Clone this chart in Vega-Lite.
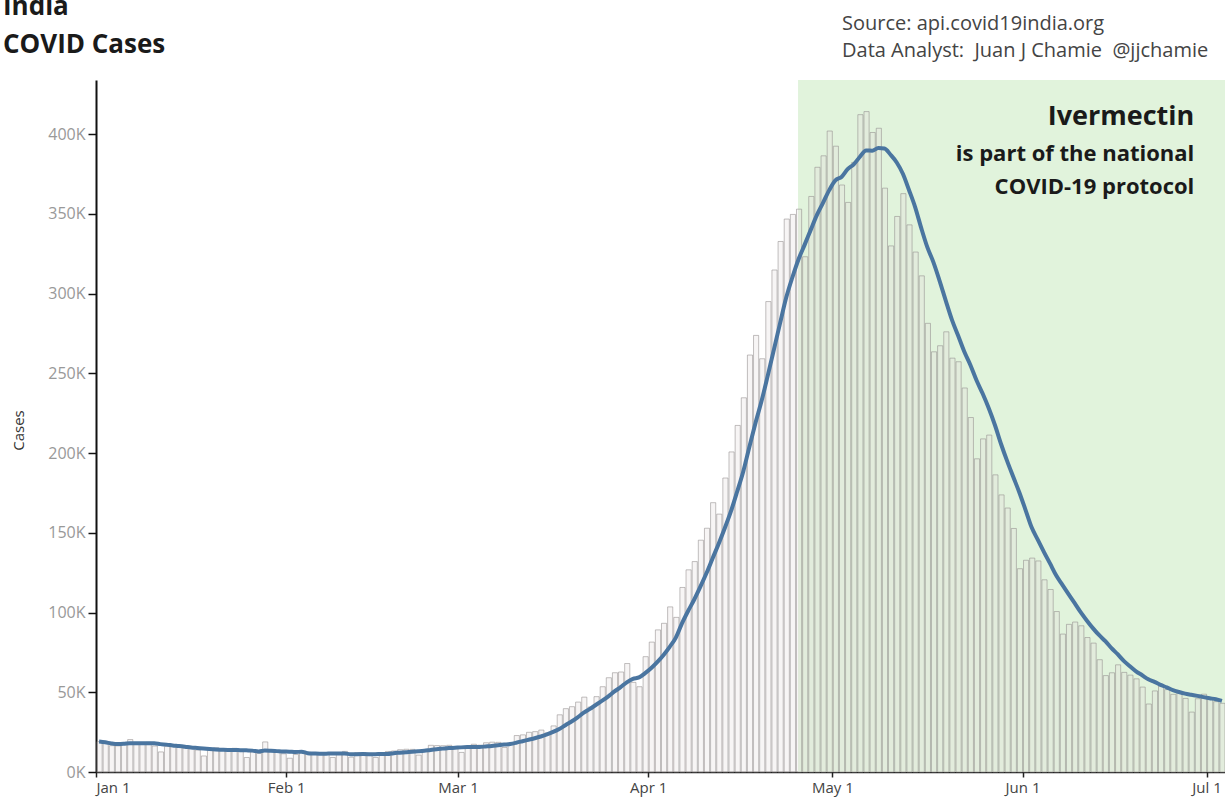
{
"$schema":"https://vega.github.io/schema/vega-lite/v6.json",
"width":1129,"height":692,"autosize":"none",
"padding":{"left":96,"top":80,"right":0,"bottom":29},
"background":"#ffffff",
"config":{"view":{"stroke":null},"font":"Open Sans","axis":{"grid":false}},
"title":{"text":["India","COVID Cases"],"anchor":"start","frame":"group","font":"Open Sans","fontSize":26,"fontWeight":"bold","color":"#1a1a1a","lineHeight":38,"dx":-93,"baseline":"alphabetic","offset":0,"dy":65},
"data":{"format":{"parse":{"date":"date:'%Y-%m-%d'"}},"values":[
{"date":"2021-01-01","cases":19079},{"date":"2021-01-02","cases":18177},{"date":"2021-01-03","cases":16504},{"date":"2021-01-04","cases":16375},{"date":"2021-01-05","cases":18088},{"date":"2021-01-06","cases":20346},{"date":"2021-01-07","cases":18139},{"date":"2021-01-08","cases":18222},{"date":"2021-01-09","cases":18645},{"date":"2021-01-10","cases":16311},{"date":"2021-01-11","cases":12584},{"date":"2021-01-12","cases":15968},{"date":"2021-01-13","cases":16946},{"date":"2021-01-14","cases":15590},{"date":"2021-01-15","cases":15158},{"date":"2021-01-16","cases":15144},{"date":"2021-01-17","cases":13788},{"date":"2021-01-18","cases":10064},{"date":"2021-01-19","cases":13823},{"date":"2021-01-20","cases":15223},{"date":"2021-01-21","cases":14545},{"date":"2021-01-22","cases":14256},{"date":"2021-01-23","cases":14849},{"date":"2021-01-24","cases":13203},{"date":"2021-01-25","cases":9102},{"date":"2021-01-26","cases":12689},{"date":"2021-01-27","cases":11666},{"date":"2021-01-28","cases":18855},{"date":"2021-01-29","cases":13083},{"date":"2021-01-30","cases":13052},{"date":"2021-01-31","cases":11427},
{"date":"2021-02-01","cases":8635},{"date":"2021-02-02","cases":11039},{"date":"2021-02-03","cases":12899},{"date":"2021-02-04","cases":12408},{"date":"2021-02-05","cases":11713},{"date":"2021-02-06","cases":12059},{"date":"2021-02-07","cases":11831},{"date":"2021-02-08","cases":9110},{"date":"2021-02-09","cases":11067},{"date":"2021-02-10","cases":12923},{"date":"2021-02-11","cases":9309},{"date":"2021-02-12","cases":12143},{"date":"2021-02-13","cases":12194},{"date":"2021-02-14","cases":11649},{"date":"2021-02-15","cases":9121},{"date":"2021-02-16","cases":11610},{"date":"2021-02-17","cases":12881},{"date":"2021-02-18","cases":13193},{"date":"2021-02-19","cases":13993},{"date":"2021-02-20","cases":14264},{"date":"2021-02-21","cases":14199},{"date":"2021-02-22","cases":10584},{"date":"2021-02-23","cases":13742},{"date":"2021-02-24","cases":16738},{"date":"2021-02-25","cases":16577},{"date":"2021-02-26","cases":16488},{"date":"2021-02-27","cases":16752},{"date":"2021-02-28","cases":15510},
{"date":"2021-03-01","cases":12286},{"date":"2021-03-02","cases":14989},{"date":"2021-03-03","cases":17407},{"date":"2021-03-04","cases":16838},{"date":"2021-03-05","cases":18327},{"date":"2021-03-06","cases":18711},{"date":"2021-03-07","cases":18599},{"date":"2021-03-08","cases":15388},{"date":"2021-03-09","cases":17921},{"date":"2021-03-10","cases":22854},{"date":"2021-03-11","cases":23285},{"date":"2021-03-12","cases":24882},{"date":"2021-03-13","cases":25320},{"date":"2021-03-14","cases":26291},{"date":"2021-03-15","cases":24492},{"date":"2021-03-16","cases":28903},{"date":"2021-03-17","cases":35871},{"date":"2021-03-18","cases":39726},{"date":"2021-03-19","cases":40953},{"date":"2021-03-20","cases":43846},{"date":"2021-03-21","cases":46951},{"date":"2021-03-22","cases":40715},{"date":"2021-03-23","cases":47262},{"date":"2021-03-24","cases":53476},{"date":"2021-03-25","cases":59118},{"date":"2021-03-26","cases":62258},{"date":"2021-03-27","cases":62714},{"date":"2021-03-28","cases":68020},{"date":"2021-03-29","cases":56211},{"date":"2021-03-30","cases":53480},{"date":"2021-03-31","cases":72330},
{"date":"2021-04-01","cases":81466},{"date":"2021-04-02","cases":89129},{"date":"2021-04-03","cases":93249},{"date":"2021-04-04","cases":103558},{"date":"2021-04-05","cases":96982},{"date":"2021-04-06","cases":115736},{"date":"2021-04-07","cases":126789},{"date":"2021-04-08","cases":131968},{"date":"2021-04-09","cases":145384},{"date":"2021-04-10","cases":152879},{"date":"2021-04-11","cases":168912},{"date":"2021-04-12","cases":161736},{"date":"2021-04-13","cases":184372},{"date":"2021-04-14","cases":200739},{"date":"2021-04-15","cases":217353},{"date":"2021-04-16","cases":234692},{"date":"2021-04-17","cases":261500},{"date":"2021-04-18","cases":273810},{"date":"2021-04-19","cases":259170},{"date":"2021-04-20","cases":295041},{"date":"2021-04-21","cases":314835},{"date":"2021-04-22","cases":332730},{"date":"2021-04-23","cases":346786},{"date":"2021-04-24","cases":349691},{"date":"2021-04-25","cases":352991},{"date":"2021-04-26","cases":323144},{"date":"2021-04-27","cases":360960},{"date":"2021-04-28","cases":379257},{"date":"2021-04-29","cases":386452},{"date":"2021-04-30","cases":401993},
{"date":"2021-05-01","cases":392488},{"date":"2021-05-02","cases":368147},{"date":"2021-05-03","cases":357229},{"date":"2021-05-04","cases":382315},{"date":"2021-05-05","cases":412262},{"date":"2021-05-06","cases":414188},{"date":"2021-05-07","cases":401078},{"date":"2021-05-08","cases":403738},{"date":"2021-05-09","cases":366161},{"date":"2021-05-10","cases":329942},{"date":"2021-05-11","cases":348421},{"date":"2021-05-12","cases":362727},{"date":"2021-05-13","cases":343144},{"date":"2021-05-14","cases":326098},{"date":"2021-05-15","cases":311170},{"date":"2021-05-16","cases":281386},{"date":"2021-05-17","cases":263533},{"date":"2021-05-18","cases":267334},{"date":"2021-05-19","cases":276070},{"date":"2021-05-20","cases":259551},{"date":"2021-05-21","cases":257299},{"date":"2021-05-22","cases":240842},{"date":"2021-05-23","cases":222315},{"date":"2021-05-24","cases":196427},{"date":"2021-05-25","cases":208921},{"date":"2021-05-26","cases":211298},{"date":"2021-05-27","cases":186364},{"date":"2021-05-28","cases":173790},{"date":"2021-05-29","cases":165553},{"date":"2021-05-30","cases":152734},{"date":"2021-05-31","cases":127510},
{"date":"2021-06-01","cases":132788},{"date":"2021-06-02","cases":134154},{"date":"2021-06-03","cases":132364},{"date":"2021-06-04","cases":120529},{"date":"2021-06-05","cases":114460},{"date":"2021-06-06","cases":100636},{"date":"2021-06-07","cases":86498},{"date":"2021-06-08","cases":92596},{"date":"2021-06-09","cases":94052},{"date":"2021-06-10","cases":91702},{"date":"2021-06-11","cases":84332},{"date":"2021-06-12","cases":80834},{"date":"2021-06-13","cases":70421},{"date":"2021-06-14","cases":60471},{"date":"2021-06-15","cases":62224},{"date":"2021-06-16","cases":67208},{"date":"2021-06-17","cases":62480},{"date":"2021-06-18","cases":60753},{"date":"2021-06-19","cases":58419},{"date":"2021-06-20","cases":53256},{"date":"2021-06-21","cases":42640},{"date":"2021-06-22","cases":50848},{"date":"2021-06-23","cases":54069},{"date":"2021-06-24","cases":51667},{"date":"2021-06-25","cases":48698},{"date":"2021-06-26","cases":50040},{"date":"2021-06-27","cases":46148},{"date":"2021-06-28","cases":37566},{"date":"2021-06-29","cases":45951},{"date":"2021-06-30","cases":48786},
{"date":"2021-07-01","cases":46617},{"date":"2021-07-02","cases":44111},{"date":"2021-07-03","cases":43071}
]},
"layer":[
{"data":{"values":[{"period":"protocol"}]},
 "mark":{"type":"rect","color":"#e1f3dc"},
 "encoding":{
  "x":{"datum":{"year":2021,"month":4,"date":25,"hours":10},"type":"temporal",
   "scale":{"domain":[{"year":2021,"month":1,"date":1},{"year":2021,"month":7,"date":4}],"nice":false},
   "axis":{"title":null,"format":"%b %-d","tickCount":{"interval":"month","step":1},"labelFlush":true,"domainColor":"#222222","domainWidth":1.5,"tickColor":"#222222","tickSize":5,"tickWidth":1.5,"labelColor":"#444444","labelFontSize":15,"labelFont":"Open Sans","labelPadding":3}},
  "x2":{"datum":{"year":2021,"month":7,"date":4}},
  "y":{"datum":0,"type":"quantitative",
   "scale":{"domain":[0,434000],"nice":false,"zero":true},
   "axis":{"title":"Cases","values":[0,50000,100000,150000,200000,250000,300000,350000,400000],"labelExpr":"datum.value/1000 + 'K'","domainColor":"#111111","domainWidth":2,"tickColor":"#111111","tickSize":8,"tickWidth":1.5,"labelColor":"#999999","labelFontSize":16,"labelFont":"Open Sans","labelPadding":3,"titleFont":"Open Sans","titleFontSize":15,"titleFontWeight":"normal","titleColor":"#333333","titleX":-78,"titleY":350,"titleAngle":-90,"titleAlign":"center","titleBaseline":"middle"}},
  "y2":{"datum":434000}}},
{"mark":{"type":"bar","fill":"#e6dede","fillOpacity":0.3,"stroke":"#8f8a8a","strokeOpacity":0.55,"strokeWidth":1},
 "encoding":{"x":{"field":"date","timeUnit":"yearmonthdate","type":"temporal","title":null},"y":{"field":"cases","type":"quantitative","title":"Cases"}}},
{"transform":[{"window":[{"op":"mean","field":"cases","as":"avg"}],"frame":[-6,0],"sort":[{"field":"date"}]}],
 "mark":{"type":"line","color":"#4a75a0","strokeWidth":4,"interpolate":"monotone"},
 "encoding":{"x":{"field":"date","timeUnit":"yearmonthdate","type":"temporal","bandPosition":0.5,"title":null},"y":{"field":"avg","type":"quantitative","title":"Cases"}}},
{"data":{"values":[{"t":1}]},"mark":{"type":"text","align":"right","baseline":"alphabetic","font":"Open Sans","fontSize":27,"fontWeight":"bold","color":"#1a1a1a"},
 "encoding":{"x":{"datum":{"year":2021,"month":6,"date":29},"type":"temporal"},"y":{"datum":405800,"type":"quantitative"},"text":{"value":"Ivermectin"}}},
{"data":{"values":[{"t":2}]},"mark":{"type":"text","align":"right","baseline":"alphabetic","font":"Open Sans","fontSize":22,"fontWeight":"bold","color":"#1a1a1a"},
 "encoding":{"x":{"datum":{"year":2021,"month":6,"date":29},"type":"temporal"},"y":{"datum":383200,"type":"quantitative"},"text":{"value":"is part of the national"}}},
{"data":{"values":[{"t":3}]},"mark":{"type":"text","align":"right","baseline":"alphabetic","font":"Open Sans","fontSize":22,"fontWeight":"bold","color":"#1a1a1a"},
 "encoding":{"x":{"datum":{"year":2021,"month":6,"date":29},"type":"temporal"},"y":{"datum":362500,"type":"quantitative"},"text":{"value":"COVID-19 protocol"}}},
{"data":{"values":[{"t":4}]},"mark":{"type":"text","align":"left","baseline":"alphabetic","font":"Open Sans","fontSize":20,"color":"#444444"},
 "encoding":{"x":{"datum":{"year":2021,"month":5,"date":2,"hours":14},"type":"temporal"},"y":{"datum":465400,"type":"quantitative"},"text":{"value":"Source: api.covid19india.org"}}},
{"data":{"values":[{"t":5}]},"mark":{"type":"text","align":"left","baseline":"alphabetic","font":"Open Sans","fontSize":20,"color":"#444444"},
 "encoding":{"x":{"datum":{"year":2021,"month":5,"date":2,"hours":14},"type":"temporal"},"y":{"datum":448600,"type":"quantitative"},"text":{"value":"Data Analyst:\u00a0 Juan J Chamie\u00a0 @jjchamie"}}}
]
}
